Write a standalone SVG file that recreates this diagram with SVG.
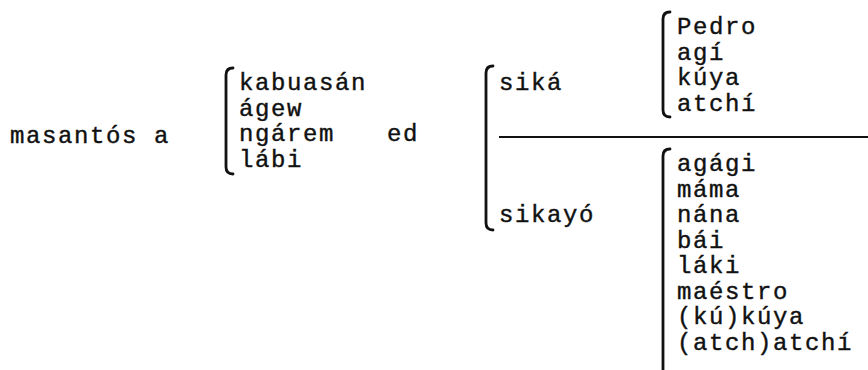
<svg xmlns="http://www.w3.org/2000/svg" width="868" height="370" viewBox="0 0 868 370">
  <style>
    .t { font-family: "Liberation Mono", "DejaVu Sans Mono", monospace; font-size: 24px; letter-spacing: 1.6px; fill: #111; stroke: #111; stroke-width: 0.4; }
    .br { fill: none; stroke: #111; stroke-width: 2.8; stroke-linecap: round; stroke-linejoin: round; }
    .rule { stroke: #111; stroke-width: 2; }
  </style>
  <rect width="868" height="370" fill="#fff"/>

  <g id="subject">
    <text class="t" x="10" y="143">masantós a</text>
  </g>

  <g id="nouns">
    <path class="br" d="M233 68 Q226 68 226 75 V167 Q226 174 233 174"/>
    <text class="t" x="239" y="90">kabuasán</text>
    <text class="t" x="239" y="115.5">ágew</text>
    <text class="t" x="239" y="141">ngárem</text>
    <text class="t" x="239" y="166.5">lábi</text>
  </g>

  <g id="ed">
    <text class="t" x="387" y="141">ed</text>
  </g>

  <g id="pronouns">
    <path class="br" d="M493 66 Q486 66 486 73 V223 Q486 230 493 230"/>
    <text class="t" x="499" y="90">siká</text>
    <text class="t" x="499" y="222">sikayó</text>
  </g>

  <g id="names-sika">
    <path class="br" d="M670 12 Q663 12 663 19 V110 Q663 117 670 117"/>
    <text class="t" x="677" y="34">Pedro</text>
    <text class="t" x="677" y="59.5">agí</text>
    <text class="t" x="677" y="85">kúya</text>
    <text class="t" x="677" y="110.5">atchí</text>
  </g>

  <g id="names-sikayo">
    <path class="br" d="M670 149 Q663 149 663 156 V372"/>
    <text class="t" x="677" y="171">agági</text>
    <text class="t" x="677" y="196.5">máma</text>
    <text class="t" x="677" y="222">nána</text>
    <text class="t" x="677" y="247.5">bái</text>
    <text class="t" x="677" y="273">láki</text>
    <text class="t" x="677" y="298.5">maéstro</text>
    <text class="t" x="677" y="324">(kú)kúya</text>
    <text class="t" x="677" y="349.5">(atch)atchí</text>
  </g>

  <g id="connectors">
    <line class="rule" x1="499" y1="137" x2="868" y2="137"/>
  </g>
</svg>
